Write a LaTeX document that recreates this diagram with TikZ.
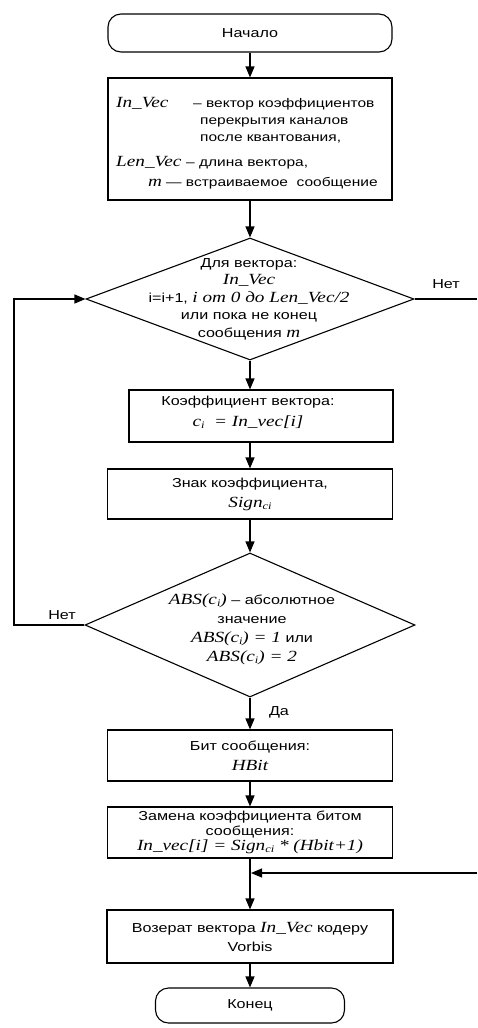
\documentclass[tikz,border=0pt]{standalone}
\usepackage{fontspec}
\setmainfont{Liberation Sans}[FakeStretch=1.24]
\newfontfamily\serfam{Liberation Serif}[FakeStretch=1.24]
\usetikzlibrary{arrows.meta,shapes.geometric}
\newcommand\vi[1]{{\serfam\itshape\fontsize{15.5}{15.5}\selectfont #1}}
\newcommand\sbs[1]{\raisebox{-0.3ex}{\fontsize{10}{10}\selectfont #1}}
\tikzset{
  flow/.style={line width=1.1pt, -{Triangle[length=11pt,width=9pt]}},
  plain/.style={line width=1.1pt},
  procbox/.style={draw, line width=1.1pt, rectangle, inner sep=0pt, align=center,
    font=\fontsize{13}{15}\selectfont},
  term/.style={procbox, rounded corners=13pt},
  decision/.style={draw, line width=1.1pt, diamond, inner sep=0pt},
  txt/.style={inner sep=0pt, align=center, font=\fontsize{13}{15}\selectfont},
  ltxt/.style={inner sep=0pt, anchor=base west, font=\fontsize{12.5}{15}\selectfont}
}
\begin{document}
\begin{tikzpicture}[x=1pt,y=-1pt]
\useasboundingbox (0,0) rectangle (477,1028);
% start
\node[term, minimum width=284pt, minimum height=38pt] (start) at (250,33) {Начало};
% box 1
\node[procbox, minimum width=284pt, minimum height=122pt] (b1) at (250,139) {};
\node[ltxt] (b1a) at (116,107) {\vi{In\_Vec}};
\node[ltxt] (b1b) at (193,107) {– вектор коэффициентов};
\node[ltxt] (b1c) at (200,124) {перекрытия каналов};
\node[ltxt] (b1d) at (200,141) {после квантования,};
\node[ltxt] (b1e) at (116,166) {\vi{Len\_Vec}};
\node[ltxt] (b1f) at (186,166) {– длина вектора,};
\node[ltxt] (b1g) at (148,186) {\vi{m}};
\node[ltxt] (b1h) at (166,186) {— встраиваемое\ \ сообщение};
% decision 1
\node[decision, minimum width=328pt, minimum height=122pt] (d1) at (250,299) {};
\node[txt, font=\fontsize{13}{17.5}\selectfont] (d1t) at (249,299)
  {Для вектора:\\ \vi{In\_Vec}\\ i=i+1, \vi{i от 0 до Len\_Vec/2}\\ или пока не конец\\ сообщения \vi{m}};
% box 2
\node[procbox, minimum width=264pt, minimum height=52pt] (b2) at (261,416) {};
\node[txt, font=\fontsize{13}{21}\selectfont] (b2t) at (248,412)
  {Коэффициент вектора:\\ \vi{c\sbs{i}\ \ = In\_vec[i]}};
% box 3
\node[procbox, minimum width=285pt, minimum height=50pt, font=\fontsize{13}{20}\selectfont] (b3) at (250,494)
  {Знак коэффициента,\\ \vi{Sign\sbs{ci}}};
% decision 2
\node[decision, minimum width=330pt, minimum height=144pt] (d2) at (250,625) {};
\node[txt, font=\fontsize{13}{19}\selectfont] (d2t) at (252,629)
  {\vi{ABS(c\sbs{i})} – абсолютное\\ значение\\ \vi{ABS(c\sbs{i}) = 1} или\\ \vi{ABS(c\sbs{i}) = 2}};
% box 4
\node[procbox, minimum width=285pt, minimum height=51pt, font=\fontsize{13}{20}\selectfont] (b4) at (250,755.5)
  {Бит сообщения:\\ \vi{HBit}};
% box 5
\node[procbox, minimum width=285pt, minimum height=51pt, font=\fontsize{13}{15}\selectfont] (b5) at (250,832.5)
  {Замена коэффициента битом\\ сообщения:\\ \vi{In\_vec[i] = Sign\sbs{ci} * (Hbit+1)}};
% box 6
\node[procbox, minimum width=286pt, minimum height=53pt, font=\fontsize{13}{19}\selectfont] (b6) at (250,936.5)
  {Возерат вектора \vi{In\_Vec} кодеру\\ Vorbis};
% end
\node[term, minimum width=189pt, minimum height=35pt] (fin) at (250,1005.5) {Конец};
% labels
\node[txt] (no1) at (446,284) {Нет};
\node[txt] (no2) at (62,615) {Нет};
\node[txt] (yes) at (279,712) {Да};
% coordinates
\coordinate (lc) at (14,0);
\coordinate (r1) at (477,299);
\coordinate (r2) at (477,873);
\coordinate (m) at (250,873);
% connectors
\draw[flow] (start) -- (b1);
\draw[flow] (b1) -- (d1);
\draw[flow] (d1.south) -- (d1.south |- b2.north);
\draw[flow] (d1.south |- b2.south) -- (b3);
\draw[flow] (b3) -- (d2);
\draw[flow] (d2) -- (b4);
\draw[flow] (b4) -- (b5);
\draw[flow] (b5) -- (b6);
\draw[flow, shorten >=1pt] (r2) -- (m);
\draw[flow] (b6) -- (fin);
\draw[plain] (d1.east) -- (r1);
\draw[flow] (d2.west) -- (d2.west -| lc) |- (d1.west);
\end{tikzpicture}
\end{document}
